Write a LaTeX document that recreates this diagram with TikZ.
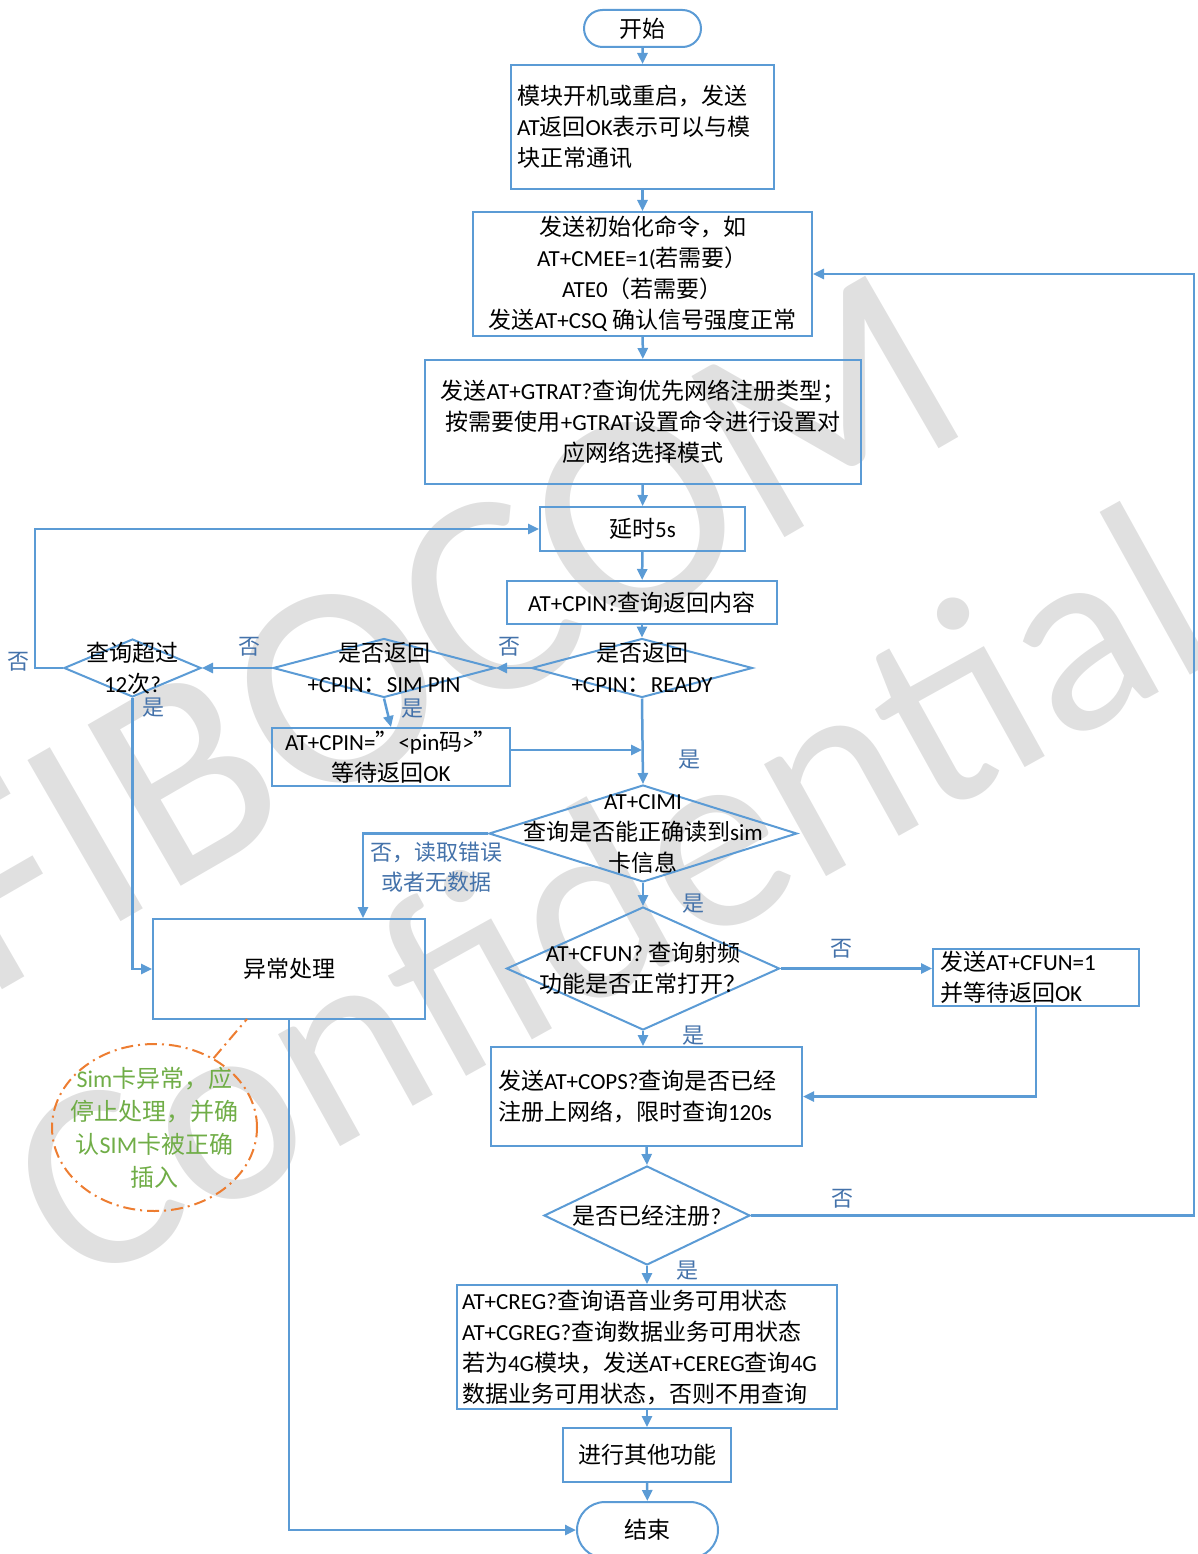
\documentclass[tikz,border=0pt]{standalone}
\usepackage{fontspec}
\setmainfont{Carlito}
\newfontfamily\cjkfont{Noto Sans CJK SC}
\newfontfamily\latinfont{Carlito}
\newfontfamily\wmfont{Carlito}
\usetikzlibrary{arrows.meta,positioning,shapes.geometric,shapes.misc}

% CJK characters switch to the CJK family, Latin stays in Carlito
\XeTeXinterchartokenstate=1
\newXeTeXintercharclass\cjkclass
\newcount\charpos
\charpos="3000
\loop
  \XeTeXcharclass\charpos=\cjkclass
  \ifnum\charpos<"9FFF
  \advance\charpos by 1
\repeat
\charpos="FF00
\loop
  \XeTeXcharclass\charpos=\cjkclass
  \ifnum\charpos<"FFEF
  \advance\charpos by 1
\repeat
\XeTeXcharclass"201C=\cjkclass
\XeTeXcharclass"201D=\cjkclass
\XeTeXinterchartoks 0 \cjkclass = {\cjkfont}
\XeTeXinterchartoks 4095 \cjkclass = {\cjkfont}
\XeTeXinterchartoks \cjkclass 0 = {\latinfont}
\XeTeXinterchartoks \cjkclass 4095 = {\latinfont}

\definecolor{flowblue}{RGB}{91,155,213}
\definecolor{labelblue}{RGB}{68,114,170}
\definecolor{notegreen}{RGB}{112,173,71}
\definecolor{noteorange}{RGB}{237,125,49}
\definecolor{wmgray}{RGB}{224,224,224}

\newcommand{\flowfont}{\fontsize{23}{31}\selectfont}
\newcommand{\ynfont}{\fontsize{22}{30}\selectfont}
\newcommand{\notefont}{\fontsize{24}{33}\selectfont}

\tikzset{
  box/.style={draw=flowblue, line width=2pt, rectangle, inner sep=0pt, align=center},
  textbox/.style={box, align=left, inner xsep=6pt},
  term/.style={draw=flowblue, line width=2pt, rounded rectangle, inner sep=0pt},
  decision/.style={draw=flowblue, line width=2pt, diamond, inner sep=0pt},
  yn/.style={text=labelblue, inner sep=0pt, font=\ynfont},
  flow/.style={draw=flowblue, line width=2.5pt, ->},
  notedash/.style={draw=noteorange, line width=2pt, dash pattern=on 12pt off 5pt on 2pt off 5pt},
  wm/.style={text=wmgray, font=\wmfont, anchor=base west, inner sep=0pt}
}

\begin{document}
\begin{tikzpicture}[x=1pt, y=-1pt, font=\flowfont, >={Triangle[length=11pt,width=10pt]}]
  \useasboundingbox (0,0) rectangle (1197,1554);

  % watermark
  \node[wm, rotate=30, font=\fontsize{290}{290}\selectfont] (wm1) at (-15,1000) {FIBOCOM};
  \node[wm, rotate=29, font=\fontsize{268}{268}\selectfont] (wm2) at (76,1293) {Confidential};

  \node[term, minimum width=117pt, minimum height=37pt] (start) at (642.5,28.5) {开始};
  \node[textbox, text width=251pt, minimum height=124pt] (boot) at (642.5,127)
    {模块开机或重启，发送\\AT返回OK表示可以与模\\块正常通讯};
  \node[box, minimum width=339pt, minimum height=124pt] (init) at (642.5,274)
    {发送初始化命令，如\\AT+CMEE=1(若需要）\\ATE0（若需要）\\发送AT+CSQ 确认信号强度正常};
  \node[box, minimum width=436pt, minimum height=124pt] (gtrat) at (643,422)
    {发送AT+GTRAT?查询优先网络注册类型；\\按需要使用+GTRAT设置命令进行设置对\\应网络选择模式};
  \node[box, minimum width=205pt, minimum height=44pt] (delay) at (642.5,529) {延时5s};
  \node[box, minimum width=270pt, minimum height=43pt] (cpin) at (642,602.5) {AT+CPIN?查询返回内容};

  \node[decision, minimum width=221pt, minimum height=59pt,
        label={[align=center]center:{是否返回\\+CPIN：READY}}] (ready) at (642,668) {};
  \node[decision, minimum width=222pt, minimum height=59pt,
        label={[align=center]center:{是否返回\\+CPIN：SIM PIN}}] (simpin) at (384,668) {};
  \node[decision, minimum width=137pt, minimum height=58pt,
        label={[align=center]center:{查询超过\\12次?}}] (count) at (132.5,668) {};
  \node[box, minimum width=238pt, minimum height=58pt] (pin) at (391,757)
    {AT+CPIN=”<pin码>”\\等待返回OK};

  \node[decision, minimum width=308pt, minimum height=97pt,
        label={[align=center]center:{AT+CIMI\\查询是否能正确读到sim\\卡信息}}] (cimi) at (643,833.5) {};
  \node[box, minimum width=272pt, minimum height=100pt] (fault) at (289,969) {异常处理};
  \node[decision, minimum width=273pt, minimum height=123pt,
        label={[align=center]center:{AT+CFUN? 查询射频\\功能是否正常打开？}}] (cfun) at (643,968.5) {};
  \node[textbox, inner xsep=7pt, text width=192pt, minimum height=57pt] (cfun1) at (1036,977.5)
    {发送AT+CFUN=1\\并等待返回OK};
  \node[textbox, inner xsep=7pt, text width=297pt, minimum height=99pt] (cops) at (646.5,1096.5)
    {发送AT+COPS?查询是否已经\\注册上网络，限时查询120s};
  \node[decision, minimum width=206pt, minimum height=99pt,
        label={[align=center]center:{是否已经注册?}}] (reg) at (647,1215.5) {};
  \node[textbox, inner xsep=5pt, text width=370pt, minimum height=124pt] (creg) at (647,1347)
    {AT+CREG?查询语音业务可用状态\\AT+CGREG?查询数据业务可用状态\\若为4G模块，发送AT+CEREG查询4G\\数据业务可用状态，否则不用查询};
  \node[box, minimum width=168pt, minimum height=54pt] (other) at (647,1455) {进行其他功能};
  \node[term, minimum width=141pt, minimum height=56pt] (end) at (647.5,1530) {结束};

  \node[ellipse, notedash, minimum width=205pt, minimum height=167pt, inner sep=0pt,
        label={[align=center, text=notegreen, font=\notefont]center:{Sim卡异常，应\\停止处理，并确\\认SIM卡被正确\\插入}}]
        (note) at (154.5,1127.5) {};
  \coordinate (notetip) at (247,1019);
  \coordinate (pinout) at ([yshift=7pt]pin.east);
  \coordinate (faultin) at ([xshift=74pt]fault.north);

  \draw[flow] (start) -- (boot);
  \draw[flow] (boot) -- (init);
  \draw[flow] (init) -- (gtrat);
  \draw[flow] (gtrat) -- (delay);
  \draw[flow] (delay) -- (cpin);
  \draw[flow] (cpin) -- (ready);
  \draw[flow] (ready.west) node[yn, xshift=-21pt, yshift=21pt] {否} -- (simpin.east);
  \draw[flow] (simpin.west) node[yn, xshift=-23pt, yshift=21pt] {否} -- (count.east);
  \draw[flow] (count.west) -- ++(-28,0) node[yn, xshift=-16pt, yshift=6pt] {否} |- (delay.west);
  \draw[flow] (simpin.south) node[yn, xshift=28pt, yshift=-10pt] {是} -- (pin.north);
  \draw[flow] (pinout) -- (pinout -| ready.south);
  \draw[flow] (ready.south) node[yn, xshift=47pt, yshift=-61pt] {是} -- (cimi.north);
  \draw[flow] (count.south) node[yn, xshift=20.5pt, yshift=-10pt] {是} |- (fault.west);
  \draw[flow] (cimi.west) node[yn, align=center, xshift=-52pt, yshift=-34pt] {否，读取错误\\或者无数据} -| (faultin);
  \draw[flow] (cimi.south) node[yn, xshift=50pt, yshift=-21pt] {是} -- (cfun.north);
  \draw[flow] (cfun.east) node[yn, xshift=61pt, yshift=20pt] {否} -- (cfun.east -| cfun1.west);
  \draw[flow] (cfun.south) node[yn, xshift=50pt, yshift=-5pt] {是} -- (cfun.south |- cops.north);
  \draw[flow] (cfun1.south) |- (cops.east);
  \draw[flow] (cops.south) -- (reg.north);
  \draw[flow] (reg.east) node[yn, xshift=91pt, yshift=17pt] {否} -- ++(443,0) |- (init.east);
  \draw[flow] (reg.south) node[yn, xshift=40pt, yshift=-5pt] {是} -- (creg.north);
  \draw[flow] (creg) -- (other);
  \draw[flow] (other) -- (end);
  \draw[flow] (fault.south) |- (end.west);
  \draw[notedash] (note) -- (notetip);
\end{tikzpicture}
\end{document}
